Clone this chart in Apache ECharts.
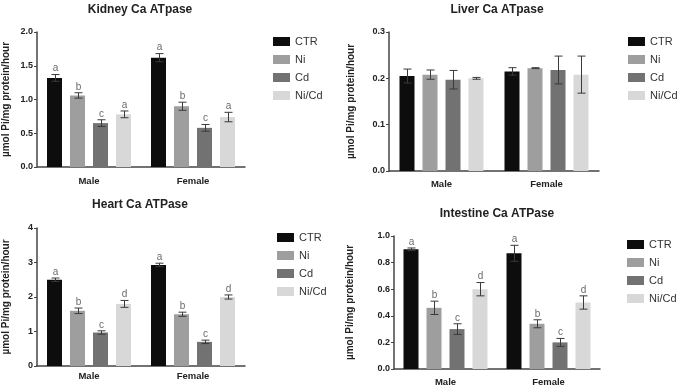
<!DOCTYPE html>
<html>
<head>
<meta charset="utf-8">
<script src="https://cdn.jsdelivr.net/npm/echarts@6/dist/echarts.min.js"></script>
<style>
  html, body { margin: 0; padding: 0; background: #fff; }
  #chart { width: 685px; height: 391px; }
</style>
</head>
<body>
<div id="chart"></div>
<script>
/* ===== data ===== */
const categories = ["Male", "Female"];
const treatments = ["CTR", "Ni", "Cd", "Ni/Cd"];
const colors = ["#0d0d0d", "#9e9e9e", "#727272", "#d8d8d8"];

// [treatment][Male, Female]
const kidneyMean = [[1.32, 1.62], [1.06, 0.90], [0.65, 0.58], [0.78, 0.74]];
const kidneyErr = [[0.05, 0.06], [0.04, 0.06], [0.05, 0.05], [0.05, 0.07]];
const kidneyLetters = [["a", "a"], ["b", "b"], ["c", "c"], ["a", "a"]];

const liverMean = [[0.205, 0.215], [0.208, 0.222], [0.197, 0.218], [0.200, 0.208]];
const liverErr = [[0.015, 0.008], [0.01, 0.001], [0.02, 0.03], [0.002, 0.04]];

const heartMean = [[2.50, 2.93], [1.60, 1.50], [0.97, 0.70], [1.80, 2.00]];
const heartErr = [[0.05, 0.05], [0.08, 0.06], [0.05, 0.05], [0.10, 0.06]];
const heartLetters = [["a", "a"], ["b", "b"], ["c", "c"], ["d", "d"]];

const intestineMean = [[0.90, 0.87], [0.46, 0.34], [0.30, 0.20], [0.60, 0.50]];
const intestineErr = [[0.01, 0.06], [0.05, 0.03], [0.04, 0.03], [0.05, 0.05]];
const intestineLetters = [["a", "a"], ["b", "b"], ["c", "c"], ["d", "d"]];

const titles = ["Kidney Ca ATpase", "Liver Ca ATpase", "Heart Ca ATPase", "Intestine Ca ATPase"];
const yName = "µmol Pi/mg protein/hour";

/* ===== layout ===== */
const FONT = "'Liberation Sans', Arial, sans-serif";
const BAR_W = 15;
const BAR_SPACE = 8;

const panels = [
    { mean: kidneyMean, err: kidneyErr, letters: kidneyLetters, max: 2, interval: 0.5, digits: 1,
      grid: { left: 37, top: 32, width: 208, height: 135 }, nameGap: 26, catMargin: 9,
      title: { x: 140, y: 4 }, legend: { left: 273, top: 36 } },
    { mean: liverMean, err: liverErr, letters: null, max: 0.3, interval: 0.1, digits: 1,
      grid: { left: 389, top: 32, width: 210, height: 139 }, nameGap: 33, catMargin: 8,
      title: { x: 497, y: 4 }, legend: { left: 628, top: 36 } },
    { mean: heartMean, err: heartErr, letters: heartLetters, max: 4, interval: 1, digits: 0,
      grid: { left: 37, top: 228, width: 208, height: 138 }, nameGap: 26, catMargin: 5,
      title: { x: 140, y: 199 }, legend: { left: 277, top: 232 } },
    { mean: intestineMean, err: intestineErr, letters: intestineLetters, max: 1.0, interval: 0.2, digits: 1,
      grid: { left: 394, top: 236, width: 206, height: 133 }, nameGap: 39, catMargin: 8,
      title: { x: 497, y: 208 }, legend: { left: 627, top: 239 } },
];

function errorSeries(gi, means, errs, letters) {
    const data = [];
    const letterList = [];
    means.forEach((row, t) => row.forEach((v, c) => {
        data.push([c, v, errs[t][c], t]);
        letterList.push(letters ? letters[t][c] : "");
    }));
    return {
        type: "custom",
        xAxisIndex: gi,
        yAxisIndex: gi,
        z: 10,
        silent: true,
        data: data,
        encode: { x: 0, y: 1 },
        renderItem(params, api) {
            const c = api.value(0), v = api.value(1), e = api.value(2), t = api.value(3);
            const center = api.coord([c, v]);
            const x = Math.round(center[0] + (t - 1.5) * (BAR_W + BAR_SPACE)) + 0.5;
            const top = api.coord([c, v + e])[1];
            const bot = api.coord([c, v - e])[1];
            const cap = 4;
            const style = { stroke: "#3a3a3a", lineWidth: 1 };
            const children = [
                { type: "line", shape: { x1: x, y1: top, x2: x, y2: bot }, style },
                { type: "line", shape: { x1: x - cap, y1: top, x2: x + cap, y2: top }, style },
                { type: "line", shape: { x1: x - cap, y1: bot, x2: x + cap, y2: bot }, style },
            ];
            const letter = letterList[params.dataIndex];
            if (letter) {
                children.push({
                    type: "text",
                    style: { text: letter, x: x, y: top - 1, align: "center", verticalAlign: "bottom",
                             fill: "#6a6a6a", font: "10px " + FONT }
                });
            }
            return { type: "group", children };
        }
    };
}

const option = {
    animation: false,
    backgroundColor: "#fff",
    title: [], grid: [], xAxis: [], yAxis: [], legend: [], series: []
};

panels.forEach((p, gi) => {
    option.title.push({
        text: titles[gi], left: p.title.x, top: p.title.y, textAlign: "center", padding: 0,
        textStyle: { fontFamily: FONT, fontSize: 12, fontWeight: "bold", color: "#222" }
    });
    option.grid.push(p.grid);
    option.xAxis.push({
        type: "category", gridIndex: gi, data: categories,
        axisLine: { lineStyle: { color: "#444", width: 1.5 } },
        axisTick: { alignWithLabel: true, length: 3, lineStyle: { color: "#444" } },
        axisLabel: { fontFamily: FONT, fontSize: 9.5, fontWeight: "bold", color: "#222", margin: p.catMargin }
    });
    option.yAxis.push({
        type: "value", gridIndex: gi, min: 0, max: p.max, interval: p.interval,
        name: yName, nameLocation: "middle", nameGap: p.nameGap, nameRotate: 90,
        nameTextStyle: { fontFamily: FONT, fontSize: 10, fontWeight: "bold", color: "#222" },
        axisLine: { show: true, lineStyle: { color: "#444", width: 1.5 } },
        axisTick: { show: true, length: 3, lineStyle: { color: "#444" } },
        splitLine: { show: false },
        axisLabel: { fontFamily: FONT, fontSize: 9, fontWeight: "bold", color: "#222", margin: 4,
                     formatter: v => v.toFixed(p.digits) }
    });
    option.legend.push({
        data: treatments, orient: "vertical", left: p.legend.left, top: p.legend.top,
        icon: "rect", itemWidth: 17, itemHeight: 9, itemGap: 7, padding: 0,
        textStyle: { fontFamily: FONT, fontSize: 11, color: "#333" }
    });
    treatments.forEach((name, t) => {
        option.series.push({
            type: "bar", name: name, xAxisIndex: gi, yAxisIndex: gi,
            data: p.mean[t], barWidth: BAR_W, barGap: (BAR_SPACE / BAR_W * 100).toFixed(2) + "%",
            itemStyle: { color: colors[t] }
        });
    });
    option.series.push(errorSeries(gi, p.mean, p.err, p.letters));
});

const chart = echarts.init(document.getElementById("chart"));
chart.setOption(option);
</script>
</body>
</html>
